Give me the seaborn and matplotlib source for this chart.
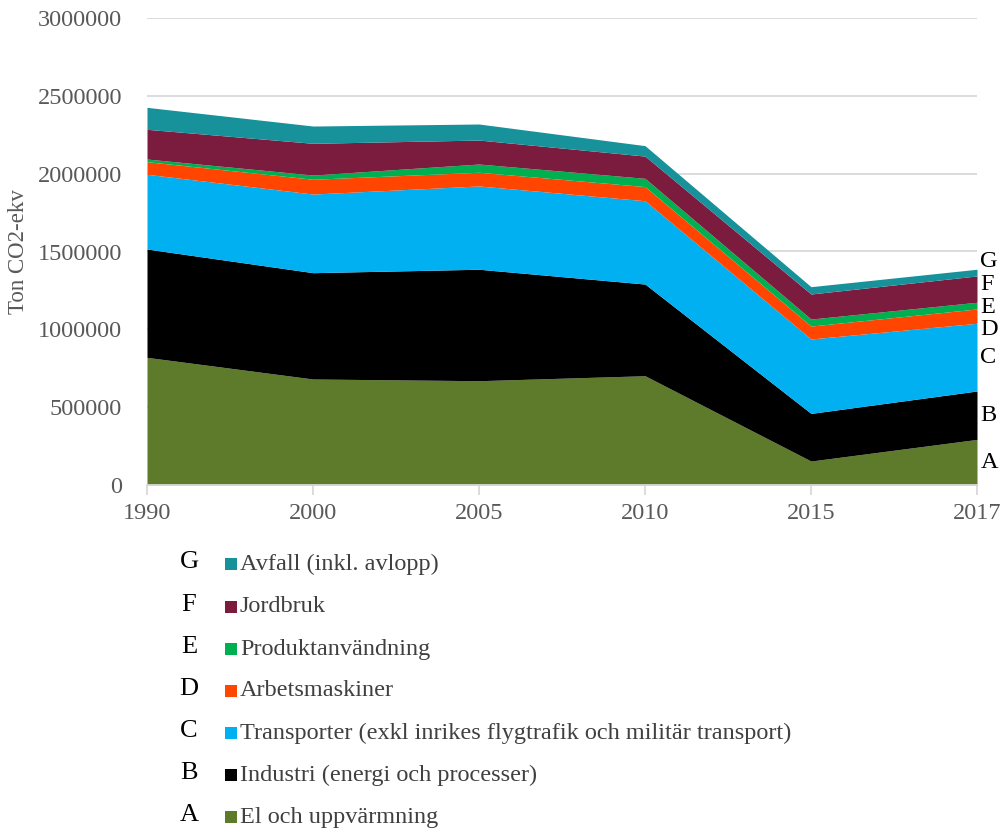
import numpy as np
import pandas as pd
import matplotlib
matplotlib.use("Agg")
import matplotlib.pyplot as plt
from matplotlib.patches import Rectangle
import seaborn as sns

# Emissions per sector, ton CO2-ekv
years = ["1990", "2000", "2005", "2010", "2015", "2017"]
el_uppvarmning = [820000, 681000, 670000, 702000, 154000, 293000]
industri = [696000, 683000, 716000, 589000, 306000, 311000]
transporter = [480000, 505000, 535000, 535000, 478000, 435000]
arbetsmaskiner = [81000, 95000, 88000, 91000, 83000, 92000]
produktanvandning = [17000, 27000, 53000, 53000, 45000, 43000]
jordbruk = [191000, 204000, 154000, 143000, 161000, 169000]
avfall = [141000, 111000, 103000, 67000, 47000, 43000]

letters = ["A", "B", "C", "D", "E", "F", "G"]
sector_names = [
    "El och uppvärmning",
    "Industri (energi och processer)",
    "Transporter (exkl inrikes flygtrafik och militär transport)",
    "Arbetsmaskiner",
    "Produktanvändning",
    "Jordbruk",
    "Avfall (inkl. avlopp)",
]
sector_colors = ["#5E7B2B", "#000000", "#00B0F0", "#FF4500", "#00B050", "#7B1C3F", "#17919A"]

df = pd.DataFrame(
    {
        "År": years,
        sector_names[0]: el_uppvarmning,
        sector_names[1]: industri,
        sector_names[2]: transporter,
        sector_names[3]: arbetsmaskiner,
        sector_names[4]: produktanvandning,
        sector_names[5]: jordbruk,
        sector_names[6]: avfall,
    }
)

sns.set_theme(style="white")
plt.rcParams["font.family"] = ["Liberation Serif", "DejaVu Serif"]
palette = sns.color_palette(sector_colors)

fig = plt.figure(figsize=(10.06, 8.36), dpi=100)
ax = fig.add_axes([147 / 1006, 1 - 485 / 836, (977 - 147) / 1006, (485 - 18) / 836])

x = np.arange(len(years))
values = df[sector_names].to_numpy().T
ax.stackplot(x, values, colors=palette, linewidth=0)

ax.set_xlim(0, len(years) - 1)
ax.set_ylim(0, 3000000)
ax.set_yticks(np.arange(0, 3000001, 500000))
ax.set_yticklabels([str(v) for v in range(0, 3000001, 500000)])
ax.set_xticks(x)
ax.set_xticklabels(years)

grid_grey = "#D9D9D9"
ax.yaxis.grid(True, color=grid_grey, linewidth=1.3)
ax.xaxis.grid(False)
ax.set_axisbelow(True)
for side in ["top", "right", "left"]:
    ax.spines[side].set_visible(False)
ax.spines["bottom"].set_color(grid_grey)
ax.spines["bottom"].set_linewidth(1.3)
ax.spines["bottom"].set_zorder(5)

ax.tick_params(axis="x", bottom=True, direction="out", length=7, width=1.3,
               color=grid_grey, labelsize=17.5, labelcolor="#595959", pad=6)
ax.tick_params(axis="y", left=False, labelsize=17.5, labelcolor="#595959", pad=12)
ax.set_ylabel("Ton CO2-ekv", fontsize=16.5, color="#595959", labelpad=6)

# Letters at the right edge, centred on each band and spread apart
tops = np.cumsum(values[:, -1])
mids = tops - values[:, -1] / 2
pos = mids.astype(float).copy()
gap = 145000
for _ in range(200):
    for i in range(1, len(pos)):
        d = pos[i] - pos[i - 1]
        if d < gap:
            shift = (gap - d) / 2
            pos[i - 1] -= shift
            pos[i] += shift
pos[0] = max(pos[0], 110000)
for letter, yv in zip(letters, pos):
    ax.text(len(years) - 1 + 0.02, yv, letter, fontsize=17.5, color="black",
            ha="left", va="center", clip_on=False)

# Legend below the chart, top row first
row_y = [564, 607, 649, 691, 733, 775, 817]
for row, idx in enumerate(range(len(sector_names) - 1, -1, -1)):
    yf = 1 - row_y[row] / 836
    fig.text(189 / 1006, yf + 2 / 836, letters[idx], fontsize=19, color="black",
             ha="center", va="center")
    fig.patches.append(Rectangle((225 / 1006, yf - 6 / 836), 12 / 1006, 12 / 836,
                                 transform=fig.transFigure, facecolor=palette[idx],
                                 edgecolor="none"))
    fig.text(240 / 1006, yf, sector_names[idx], fontsize=17.5, color="#404040",
             ha="left", va="center")

fig.savefig("out.png", dpi=100)
